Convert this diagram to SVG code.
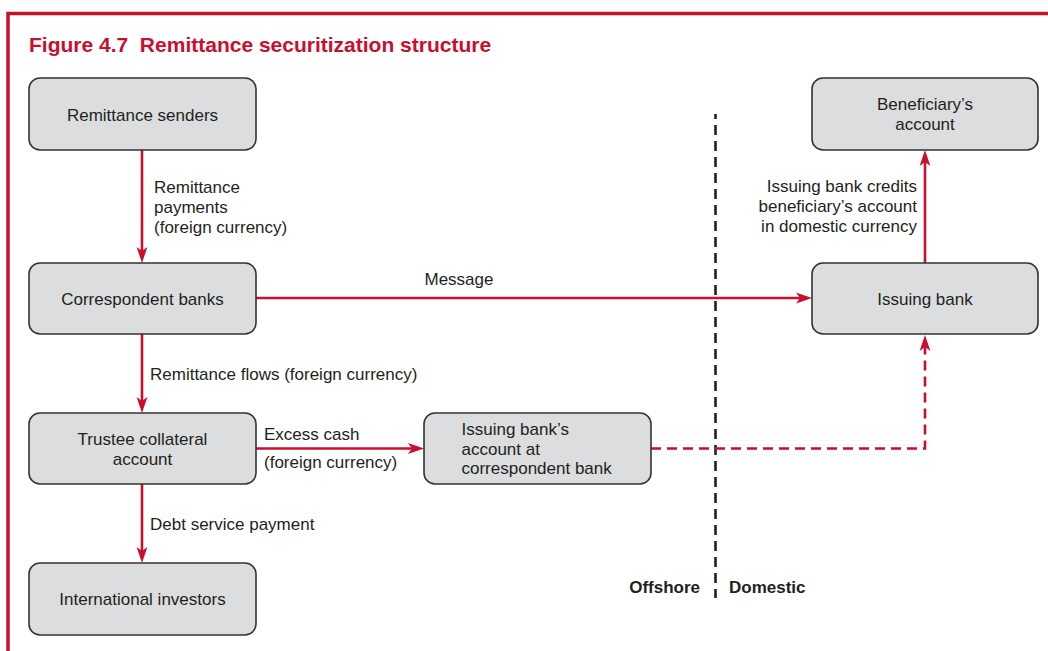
<svg xmlns="http://www.w3.org/2000/svg" width="1048" height="651" viewBox="0 0 1048 651">
<style>
.box{fill:#dcdddf;stroke:#333333;stroke-width:1.6}
.t{font-family:"Liberation Sans",Arial,sans-serif;font-size:17px;fill:#231f20}
.c{text-anchor:middle}
.r{text-anchor:end}
.b{font-weight:bold}
.ln{fill:none;stroke:#c8102e;stroke-width:2.6}
.dash{stroke-dasharray:10 6}
</style>
<defs>
<marker id="ah" viewBox="0 0 16 12" refX="6" refY="6" markerWidth="16" markerHeight="12" markerUnits="userSpaceOnUse" orient="auto">
<path d="M0,0.6 L16,6 L0,11.4 L4,6 Z" fill="#c8102e"/>
</marker>
</defs>
<rect width="1048" height="651" fill="#ffffff"/>
<g id="frame">
<path d="M8,651 L8,13.5 L1048,13.5" fill="none" stroke="#c8102e" stroke-width="3.5"/>
<text x="29" y="52" class="t b" style="font-size:21px;fill:#c8102e" xml:space="preserve">Figure 4.7  Remittance securitization structure</text>
</g>
<g id="divider">
<path d="M715.5,114 L715.5,598" fill="none" stroke="#231f20" stroke-width="2.6" stroke-dasharray="10 6" stroke-dashoffset="5"/>
<text x="700" y="593" class="t b r">Offshore</text>
<text x="729" y="593" class="t b">Domestic</text>
</g>
<g id="connectors">
<path class="ln" d="M142,150 L142,253" marker-end="url(#ah)"/>
<path class="ln" d="M256,298 L802,298" marker-end="url(#ah)"/>
<path class="ln" d="M142,334 L142,403" marker-end="url(#ah)"/>
<path class="ln" d="M142,484 L142,553" marker-end="url(#ah)"/>
<path class="ln" d="M256,448.5 L414,448.5" marker-end="url(#ah)"/>
<path class="ln dash" d="M651,448.5 L925,448.5 L925,345" marker-end="url(#ah)"/>
<path class="ln" d="M925,263 L925,160" marker-end="url(#ah)"/>
<text x="154" y="193" class="t">Remittance</text>
<text x="154" y="213" class="t">payments</text>
<text x="154" y="233" class="t">(foreign currency)</text>
<text x="459" y="285" class="t c">Message</text>
<text x="150" y="380" class="t">Remittance flows (foreign currency)</text>
<text x="264" y="440" class="t">Excess cash</text>
<text x="264" y="468" class="t">(foreign currency)</text>
<text x="150" y="530" class="t">Debt service payment</text>
<text x="917" y="192" class="t r">Issuing bank credits</text>
<text x="917" y="212" class="t r">beneficiary’s account</text>
<text x="917" y="232" class="t r">in domestic currency</text>
</g>
<g id="remittance-senders">
<rect class="box" x="29" y="78" width="227" height="72" rx="11"/>
<text x="142.5" y="121" class="t c">Remittance senders</text>
</g>
<g id="correspondent-banks">
<rect class="box" x="29" y="263" width="227" height="71" rx="11"/>
<text x="142.5" y="305" class="t c">Correspondent banks</text>
</g>
<g id="trustee-collateral-account">
<rect class="box" x="29" y="413" width="227" height="71" rx="11"/>
<text x="142.5" y="445" class="t c">Trustee collateral</text>
<text x="142.5" y="464.5" class="t c">account</text>
</g>
<g id="international-investors">
<rect class="box" x="29" y="563" width="227" height="72" rx="11"/>
<text x="142.5" y="605" class="t c">International investors</text>
</g>
<g id="issuing-bank-account">
<rect class="box" x="424" y="413" width="227" height="71" rx="11"/>
<text x="461.5" y="435" class="t">Issuing bank’s</text>
<text x="461.5" y="454.5" class="t">account at</text>
<text x="461.5" y="474" class="t">correspondent bank</text>
</g>
<g id="issuing-bank">
<rect class="box" x="812" y="263" width="226" height="71" rx="11"/>
<text x="925" y="305" class="t c">Issuing bank</text>
</g>
<g id="beneficiary-account">
<rect class="box" x="812" y="78" width="226" height="72" rx="11"/>
<text x="925" y="109.5" class="t c">Beneficiary’s</text>
<text x="925" y="129.5" class="t c">account</text>
</g>
</svg>
